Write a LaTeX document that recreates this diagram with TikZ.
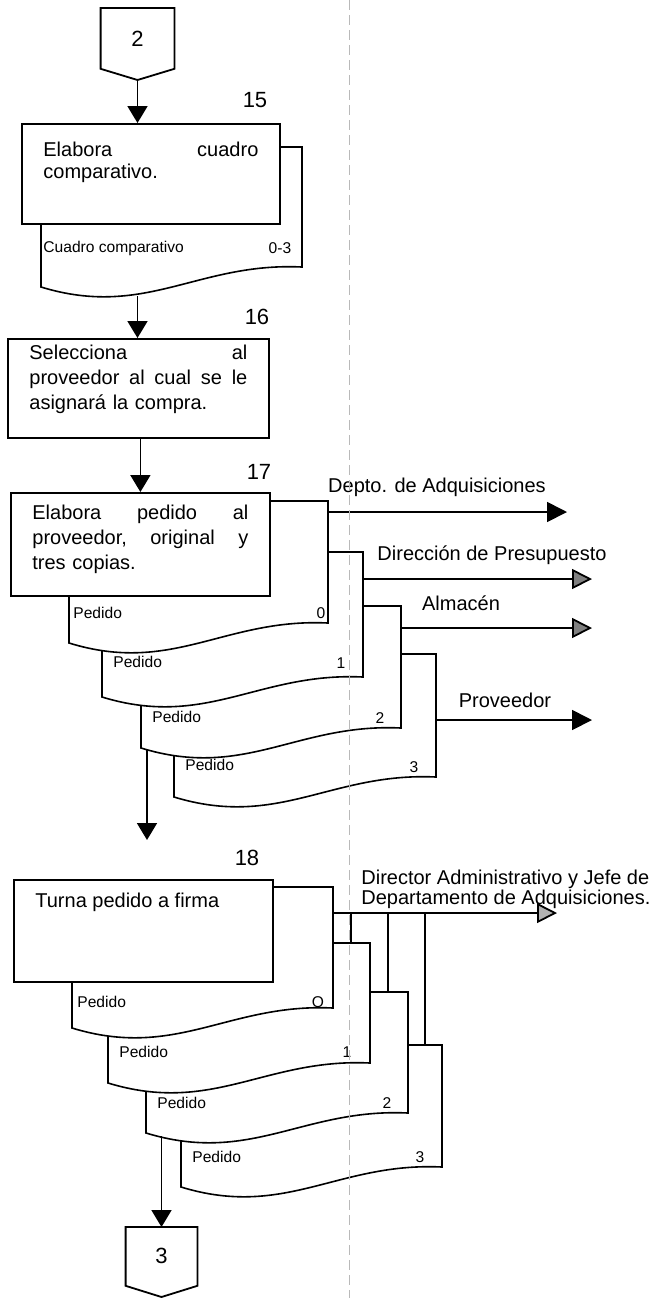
\documentclass[tikz,border=0pt]{standalone}
\usepackage{fontspec}
\setmainfont{Liberation Sans}
\usetikzlibrary{arrows.meta}

% a sheet with a wavy lower edge: left, top, right, lower-left y
\newcommand{\docpage}[4]{%
  \filldraw[docline] (#1,#2) -- (#3,#2) -- (#3,{#4-20})
    .. controls ({#1+0.6*(#3-#1)},{#4-25}) and ({#1+0.4*(#3-#1)},{#4+32}) .. (#1,#4)
    -- cycle;}

\begin{document}
\begin{tikzpicture}[x=0.5pt,y=-0.5pt,
  box/.style={draw, line width=0.9pt, fill=white, inner sep=0pt, anchor=north west},
  txt/.style={inner sep=0pt, anchor=north west, align=left},
  num/.style={font=\fontsize{11}{13}\selectfont},
  small/.style={inner sep=0pt, anchor=west, font=\fontsize{7.8}{9}\selectfont},
  lbl/.style={font=\fontsize{10}{12}\selectfont},
  flow/.style={line width=0.9pt, -{Triangle[length=8.5pt,width=10pt]}},
  outarrow/.style={line width=0.9pt, -{Triangle[length=10pt,width=10pt]}},
  docline/.style={line width=0.8pt, fill=white},
  sepline/.style={gray!55, line width=0.4pt, dash pattern=on 5pt off 2.5pt}]

\useasboundingbox (0,0) rectangle (653,1298);

  % connector 2
  \node[inner sep=0pt, minimum width=36.5pt, minimum height=30pt, anchor=north, num] (c2) at (137.5,8) {2};
  \coordinate (c2tip) at (137.5,80);
  \draw[line width=0.9pt] (c2.north west) -- (c2.north east) -- (c2.south east) -- (c2tip) -- (c2.south west) -- cycle;

  % 15
  \node[num] (n15) at (255,100) {15};
  \docpage{41}{147}{302}{287}
  \node[box, minimum width=129pt, minimum height=50pt] (b15) at (21,123) {};
  \node[txt, text width=107.5pt, font=\fontsize{10}{11}\selectfont] (t15) at (43,142) {Elabora\hfill cuadro\\comparativo.};
  \node[small] (p15) at (43,248) {Cuadro comparativo};
  \node[small, anchor=center] (k15) at (280,248) {0-3};
  \coordinate (d15) at (137.5,296);
  \draw[flow] (c2tip) -- (c2tip |- b15.north);

  % 16
  \node[num] (n16) at (257,317) {16};
  \node[box, minimum width=130.5pt, minimum height=49.5pt] (b16) at (7,338) {};
  \node[txt, text width=109pt, font=\fontsize{10}{12.3}\selectfont] (t16) at (29,345) {Selecciona\hfill al\\proveedor\hfill al\hfill cual\hfill se\hfill le\\asignará la compra.};
  \draw[flow] (d15) -- (d15 |- b16.north);

  % 17
  \node[num] (n17) at (259,472) {17};
  \docpage{174}{654}{436}{797}
  \docpage{141}{606}{401}{748}
  \docpage{102}{552}{363}{697}
  \docpage{69}{501}{328}{643}
  \node[box, minimum width=129.5pt, minimum height=51.5pt] (b17) at (10,492) {};
  \node[txt, text width=108pt, font=\fontsize{10}{12.5}\selectfont] (t17) at (32,505) {Elabora\hfill pedido\hfill al\\proveedor,\hfill original\hfill y\\tres copias.};
  \draw[flow] (b17.north |- b16.south) -- (b17.north);
  \node[small] (p17a) at (73,613) {Pedido};
  \node[small] (p17b) at (113,662) {Pedido};
  \node[small] (p17c) at (152,717) {Pedido};
  \node[small] (p17d) at (185,765) {Pedido};
  \node[small, anchor=center] (k17a) at (321,613) {0};
  \node[small, anchor=center] (k17b) at (341,663) {1};
  \node[small, anchor=center] (k17c) at (380,718) {2};
  \node[small, anchor=center] (k17d) at (414,767) {3};

  \node[lbl] (l-depto) at (437,487) {Depto. de Adquisiciones};
  \node[lbl] (l-presup) at (492,555) {Dirección de Presupuesto};
  \node[lbl] (l-almacen) at (461,603) {Almacén};
  \node[lbl] (l-prov) at (505,700) {Proveedor};
  \coordinate (o-depto) at (328,512);   \coordinate (e-depto) at (567,512);
  \coordinate (o-presup) at (363,579);  \coordinate (e-presup) at (592,579);
  \coordinate (o-almacen) at (401,628); \coordinate (e-almacen) at (592,628);
  \coordinate (o-prov) at (436,720);    \coordinate (e-prov) at (592,720);
  \draw[outarrow] (o-depto) -- (e-depto);
  \draw[outarrow, -{Triangle[length=10pt,width=10pt,fill=gray]}] (o-presup) -- (e-presup);
  \draw[outarrow, -{Triangle[length=10pt,width=10pt,fill=gray]}] (o-almacen) -- (e-almacen);
  \draw[outarrow] (o-prov) -- (e-prov);

  \coordinate (d17) at (147,750);
  \coordinate (e17) at (147,840);
  \draw[flow] (d17) -- (e17);

  % 18
  \node[num] (n18) at (247,858) {18};
  \docpage{181}{1045}{442}{1187}
  \docpage{146}{992}{408}{1133}
  \docpage{108}{943}{370}{1083}
  \docpage{72}{887}{333}{1028}
  \node[box, minimum width=129.5pt, minimum height=51pt] (b18) at (13,879) {};
  \node[txt, font=\fontsize{10}{12.5}\selectfont] (t18) at (35,893) {Turna pedido a firma};
  \node[small] (p18a) at (77,1002) {Pedido};
  \node[small] (p18b) at (119,1052) {Pedido};
  \node[small] (p18c) at (157,1103) {Pedido};
  \node[small] (p18d) at (192,1157) {Pedido};
  \node[small, anchor=center] (k18a) at (318,1002) {O};
  \node[small, anchor=center] (k18b) at (347,1052) {1};
  \node[small, anchor=center] (k18c) at (387,1103) {2};
  \node[small, anchor=center] (k18d) at (420,1157) {3};

  \node[lbl, txt, font=\fontsize{10}{10}\selectfont] (l-dir) at (361,870) {Director Administrativo y Jefe de\\Departamento de Adquisiciones.};
  \coordinate (o-dir) at (333,913);
  \coordinate (e-dir) at (557,913);
  \draw[outarrow, -{Triangle[length=10pt,width=10pt,fill=gray!60]}] (o-dir) -- (e-dir);
  \draw[line width=0.9pt] (351,913) -- (351,943);
  \draw[line width=0.9pt] (388,913) -- (388,992);
  \draw[line width=0.9pt] (425,913) -- (425,1045);

  % connector 3
  \node[inner sep=0pt, minimum width=35.5pt, minimum height=29pt, anchor=north, num] (c3) at (161.5,1227) {3};
  \coordinate (c3tip) at (161.5,1297);
  \draw[line width=0.9pt] (c3.north west) -- (c3.north east) -- (c3.south east) -- (c3tip) -- (c3.south west) -- cycle;
  \coordinate (d18) at (161.5,1136);
  \draw[flow] (d18) -- (c3.north);

  % page fold
  \draw[sepline] (349,0) -- (349,1298);
\end{tikzpicture}
\end{document}
